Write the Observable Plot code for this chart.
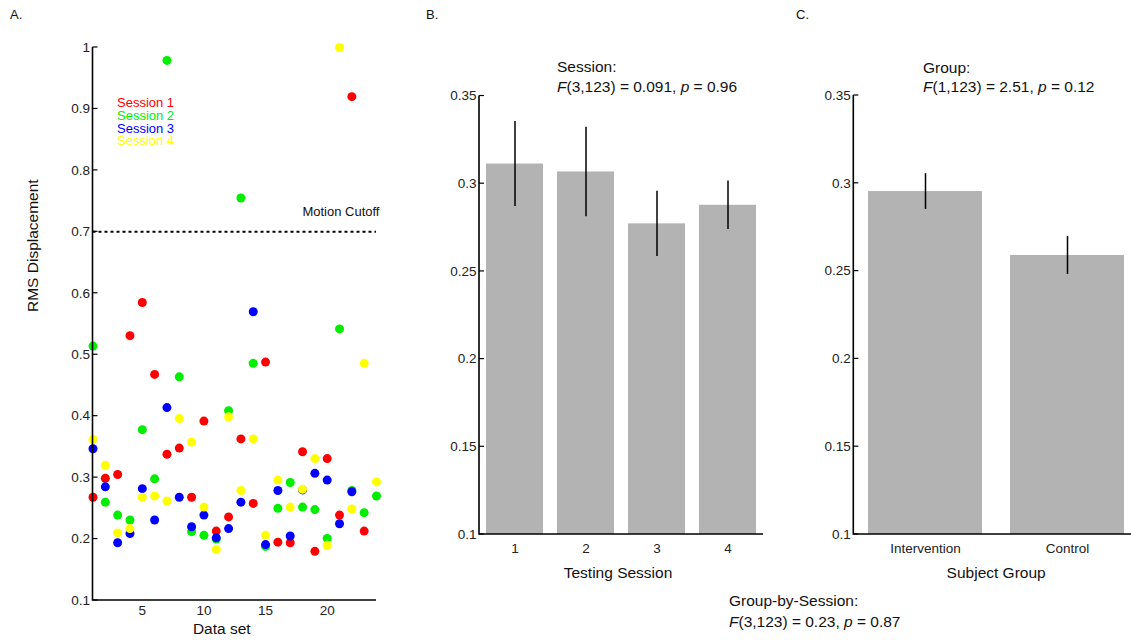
<!DOCTYPE html>
<html><head><meta charset="utf-8">
<script src="https://cdn.jsdelivr.net/npm/d3@7"></script>
<script src="https://cdn.jsdelivr.net/npm/@observablehq/plot@0.6"></script>
<style>
body{margin:0;background:#fff;font-family:"Liberation Sans",Arial,Helvetica,sans-serif;}
#wrap{position:relative;width:1131px;height:640px;overflow:hidden;background:#fff;}
.abs{position:absolute;white-space:nowrap;color:#111;}
.panel{position:absolute;top:0;}
.panel svg{overflow:visible;max-width:none;}
</style></head><body><div id="wrap"></div>
<script>
// ---------- Data ----------
const datasets = [1,2,3,4,5,6,7,8,9,10,11,12,13,14,15,16,17,18,19,20,21,22,23,24];
const sessionNames = ["Session 1","Session 2","Session 3","Session 4"];
const sessionColors = ["#ff0000","#00ee00","#0000ff","#ffff00"];
const session1 = [0.268,0.299,0.305,0.531,0.585,0.468,0.338,0.348,0.268,0.392,0.213,0.236,0.363,0.258,0.488,0.195,0.194,0.342,0.180,0.331,0.239,0.920,0.213,null];
const session2 = [0.514,0.260,0.239,0.231,0.378,0.298,0.979,0.464,0.212,0.206,0.200,0.409,0.755,0.486,0.188,0.250,0.292,0.252,0.248,0.201,0.542,0.279,0.243,0.270];
const session3 = [0.347,0.285,0.194,0.209,0.282,0.231,0.414,0.268,0.220,0.239,0.202,0.217,0.260,0.570,0.191,0.279,0.205,0.280,0.307,0.296,0.225,0.277,null,null];
const session4 = [0.362,0.320,0.210,0.217,0.268,0.270,0.262,0.396,0.358,0.252,0.183,0.399,0.279,0.363,0.206,0.296,0.252,0.281,0.331,0.190,1.000,0.249,0.486,0.293];
const motionCutoff = 0.7;
const yTicksA = [0.1,0.2,0.3,0.4,0.5,0.6,0.7,0.8,0.9,1];
const xTicksA = [5,10,15,20];

const testingSessions = ["1","2","3","4"];
const sessionMean = [0.3112,0.3067,0.2771,0.2877];
const sessionErr  = [0.0242,0.0255,0.0186,0.0138];

const subjectGroups = ["Intervention","Control"];
const groupMean = [0.2953,0.2589];
const groupErr  = [0.0102,0.0108];

const barYTicks = [0.1,0.15,0.2,0.25,0.3,0.35];
const barAxisMin = 0.1, barAxisMax = 0.35;

// ---------- Helpers ----------
const FONT = "Liberation Sans, Arial, Helvetica, sans-serif";
const fmt = d => String(+d.toFixed(2));
const axisLines = (index, scales, values, dims) => {
  const l = dims.marginLeft, r = dims.width - dims.marginRight;
  const t = dims.marginTop, b = dims.height - dims.marginBottom;
  const g = d3.create("svg:g");
  g.append("path").attr("d", `M${l},${t}V${b}H${r}`)
    .attr("fill","none").attr("stroke","#000").attr("stroke-width",1.6);
  return g.node();
};
const inwardTicks = ticks => (index, scales, values, dims) => {
  const g = d3.create("svg:g").attr("stroke","#000").attr("stroke-width",1.2);
  for (const t of ticks) {
    const y = scales.y(t);
    g.append("line").attr("x1", dims.marginLeft).attr("x2", dims.marginLeft + 5).attr("y1", y).attr("y2", y);
  }
  return g.node();
};
const baseStyle = {fontFamily: FONT, fontSize: "13.5px", color: "#222", background: "transparent", overflow: "visible", maxWidth: "none"};
const wrap = document.getElementById("wrap");
function place(node, left) {
  // enlarge axis tick labels (texts not styled by our own text marks)
  node.querySelectorAll("text").forEach(t => {
    const g = t.closest("[font-size]");
    const fs = g ? g.getAttribute("font-size") : null;
    if (!fs || fs === "10") { t.style.fontSize = "13.5px"; t.style.fontFamily = FONT; t.style.fill = "#222"; }
  });
  const d = document.createElement("div");
  d.className = "panel"; d.style.left = left + "px";
  d.appendChild(node); wrap.appendChild(d);
}
function addText(html, left, top, size, lh, color) {
  const d = document.createElement("div");
  d.className = "abs";
  d.style.left = left + "px"; d.style.top = top + "px";
  d.style.fontSize = size + "px"; d.style.lineHeight = lh + "px";
  if (color) d.style.color = color;
  d.innerHTML = html; wrap.appendChild(d);
}

// ---------- Panel A ----------
const seriesA = [session1, session2, session3, session4];
const points = seriesA.flatMap((vals, s) => vals.map((v, i) => ({dataset: datasets[i], rms: v, session: sessionNames[s]})));

const plotA = Plot.plot({
  width: 390, height: 640,
  marginLeft: 92.5, marginRight: 14, marginTop: 47, marginBottom: 40,
  style: baseStyle,
  x: {domain: [1, 24], ticks: xTicksA, tickSize: 0, tickPadding: 5, label: null},
  y: {domain: [0.1, 1], ticks: yTicksA, tickSize: 0, tickPadding: 3, tickFormat: fmt, label: null},
  color: {domain: sessionNames, range: sessionColors},
  marks: [
    Plot.ruleY([motionCutoff], {stroke: "#000", strokeWidth: 2, strokeDasharray: "3,3"}),
    Plot.text(["Motion Cutoff"], {y: [motionCutoff], frameAnchor: "right", textAnchor: "end", dx: 3, dy: -20, fontSize: 13, fill: "#111"}),
    Plot.dot(points, {x: "dataset", y: "rms", fill: "session", r: 4.5}),
    axisLines,
    inwardTicks(yTicksA),
    Plot.text(["RMS Displacement"], {frameAnchor: "left", rotate: -90, dx: -59.5, dy: -12, fontSize: 15.5, fill: "#111"}),
    Plot.text(["Data set"], {frameAnchor: "bottom", dx: -13, dy: 33, fontSize: 15.5, fill: "#111"})
  ]
});
place(plotA, 0);

// ---------- Panel B ----------
const sessionData = testingSessions.map((s, i) => ({session: s, mean: sessionMean[i], err: sessionErr[i]}));
const plotB = Plot.plot({
  width: 380, height: 640,
  marginLeft: 79, marginRight: 17, marginTop: 95.5, marginBottom: 106,
  style: baseStyle,
  x: {domain: testingSessions, paddingInner: 0.2, paddingOuter: 0.1, tickSize: 0, tickPadding: 9, label: null},
  y: {domain: [barAxisMin, barAxisMax], ticks: barYTicks, tickSize: 0, tickPadding: 3, tickFormat: fmt, label: null},
  marks: [
    Plot.barY(sessionData, {x: "session", y1: barAxisMin, y2: "mean", fill: "#b3b3b3"}),
    Plot.ruleX(sessionData, {x: "session", y1: d => d.mean - d.err, y2: d => d.mean + d.err, stroke: "#000", strokeWidth: 1.5}),
    axisLines,
    inwardTicks(barYTicks),
    Plot.text(["Testing Session"], {frameAnchor: "bottom", dx: -3.5, dy: 43, fontSize: 15.5, fill: "#111"})
  ]
});
place(plotB, 400);

// ---------- Panel C ----------
const groupData = subjectGroups.map((g, i) => ({group: g, mean: groupMean[i], err: groupErr[i]}));
const plotC = Plot.plot({
  width: 361, height: 640,
  marginLeft: 83.3, marginRight: -7, marginTop: 95, marginBottom: 106,
  style: baseStyle,
  x: {domain: subjectGroups, paddingInner: 0.2, paddingOuter: 0.1, tickSize: 0, tickPadding: 9, label: null},
  y: {domain: [barAxisMin, barAxisMax], ticks: barYTicks, tickSize: 0, tickPadding: 3, tickFormat: fmt, label: null},
  marks: [
    Plot.barY(groupData, {x: "group", y1: barAxisMin, y2: "mean", fill: "#b3b3b3"}),
    Plot.ruleX(groupData, {x: "group", y1: d => d.mean - d.err, y2: d => d.mean + d.err, stroke: "#000", strokeWidth: 1.5}),
    axisLines,
    inwardTicks(barYTicks),
    Plot.text(["Subject Group"], {frameAnchor: "bottom", dy: 43, fontSize: 15.5, fill: "#111"})
  ]
});
place(plotC, 770);

// ---------- Text annotations ----------
addText("A.", 10, 7, 13, 16);
addText("B.", 426, 7, 13, 16);
addText("C.", 796, 7, 13, 16);
addText(sessionNames.map((n, i) => `<span style="color:${sessionColors[i]}">${n}</span>`).join("<br>"), 117, 96.7, 13, 12.9);
addText("Session:<br><i>F</i>(3,123) = 0.091, <i>p</i> = 0.96", 557, 57, 15.5, 19.5);
addText("Group:<br><i>F</i>(1,123) = 2.51, <i>p</i> = 0.12", 923, 57.5, 15.5, 19.5);
addText("Group-by-Session:<br><i>F</i>(3,123) = 0.23, <i>p</i> = 0.87", 729, 590.4, 15.5, 21);
</script>
</body></html>
